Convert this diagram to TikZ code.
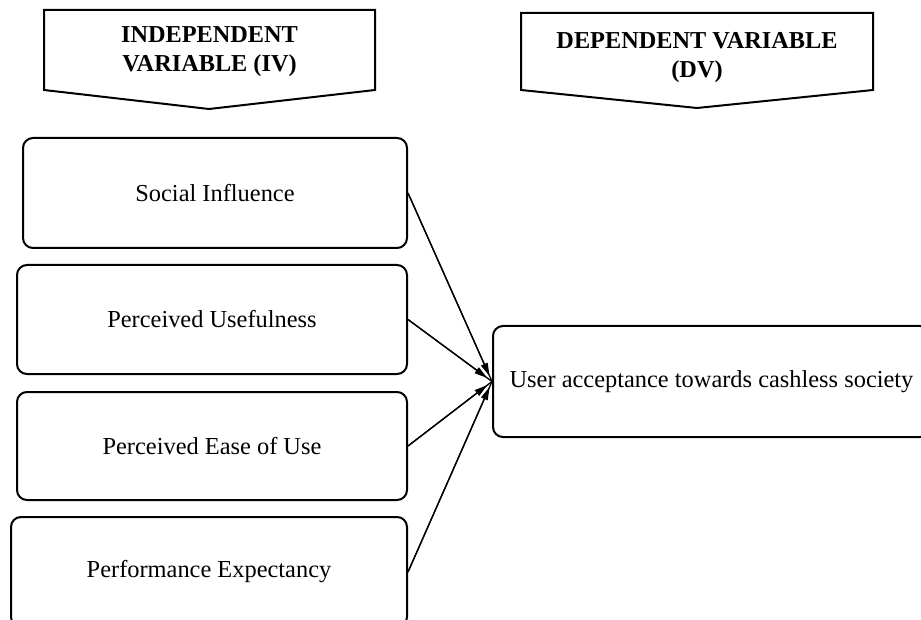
\documentclass[tikz,border=0pt]{standalone}
\usepackage{fontspec}
\setmainfont{Liberation Serif}
\usetikzlibrary{arrows.meta}
\begin{document}
\begin{tikzpicture}[x=1pt,y=-1pt,
  varbox/.style={draw, line width=2pt, rounded corners=10pt, align=center, inner sep=0pt, font=\fontsize{24.4}{29}\selectfont},
  head/.style={align=center, inner sep=0pt, font=\bfseries\fontsize{24.3}{29}\selectfont},
  pent/.style={draw, line width=2pt, line join=miter},
  link/.style={line width=1.3pt},
  arr/.style={-{Triangle[length=13pt,width=7pt]}, line width=1.3pt, shorten >=6pt}
]
\useasboundingbox (0,0) rectangle (921,620);
\clip (0,0) rectangle (921,620);
\fill[white] (0,0) rectangle (921,620);
% headers
\draw[pent] (44,10) -- (375,10) -- (375,90) -- (209,109) -- (44,90) -- cycle;
\node[head] (iv) at (209.5,51.7) {INDEPENDENT\\VARIABLE (IV)};
\draw[pent] (521,13) -- (873,13) -- (873,90) -- (697,108) -- (521,90) -- cycle;
\node[head] (dv) at (697,57.7) {DEPENDENT VARIABLE\\(DV)};
% boxes
\node[varbox, minimum width=384pt, minimum height=110pt] (si) at (215,193) {Social Influence};
\node[varbox, minimum width=390pt, minimum height=109pt] (pu) at (212,319.5) {Perceived Usefulness};
\node[varbox, minimum width=390pt, minimum height=108pt] (pe) at (212,446) {Perceived Ease of Use};
\node[varbox, minimum width=396pt, minimum height=110pt] (px) at (209,572) {Performance Expectancy};
\node[varbox, minimum width=437pt, minimum height=111pt] (ua) at (711.5,381.5) {User acceptance towards cashless society};
% connectors
\foreach \s in {si,pu,pe,px}{
  \draw[link] (\s.east) -- (ua.west);
  \draw[arr] (\s.east) -- (ua.west);
}
\end{tikzpicture}
\end{document}
